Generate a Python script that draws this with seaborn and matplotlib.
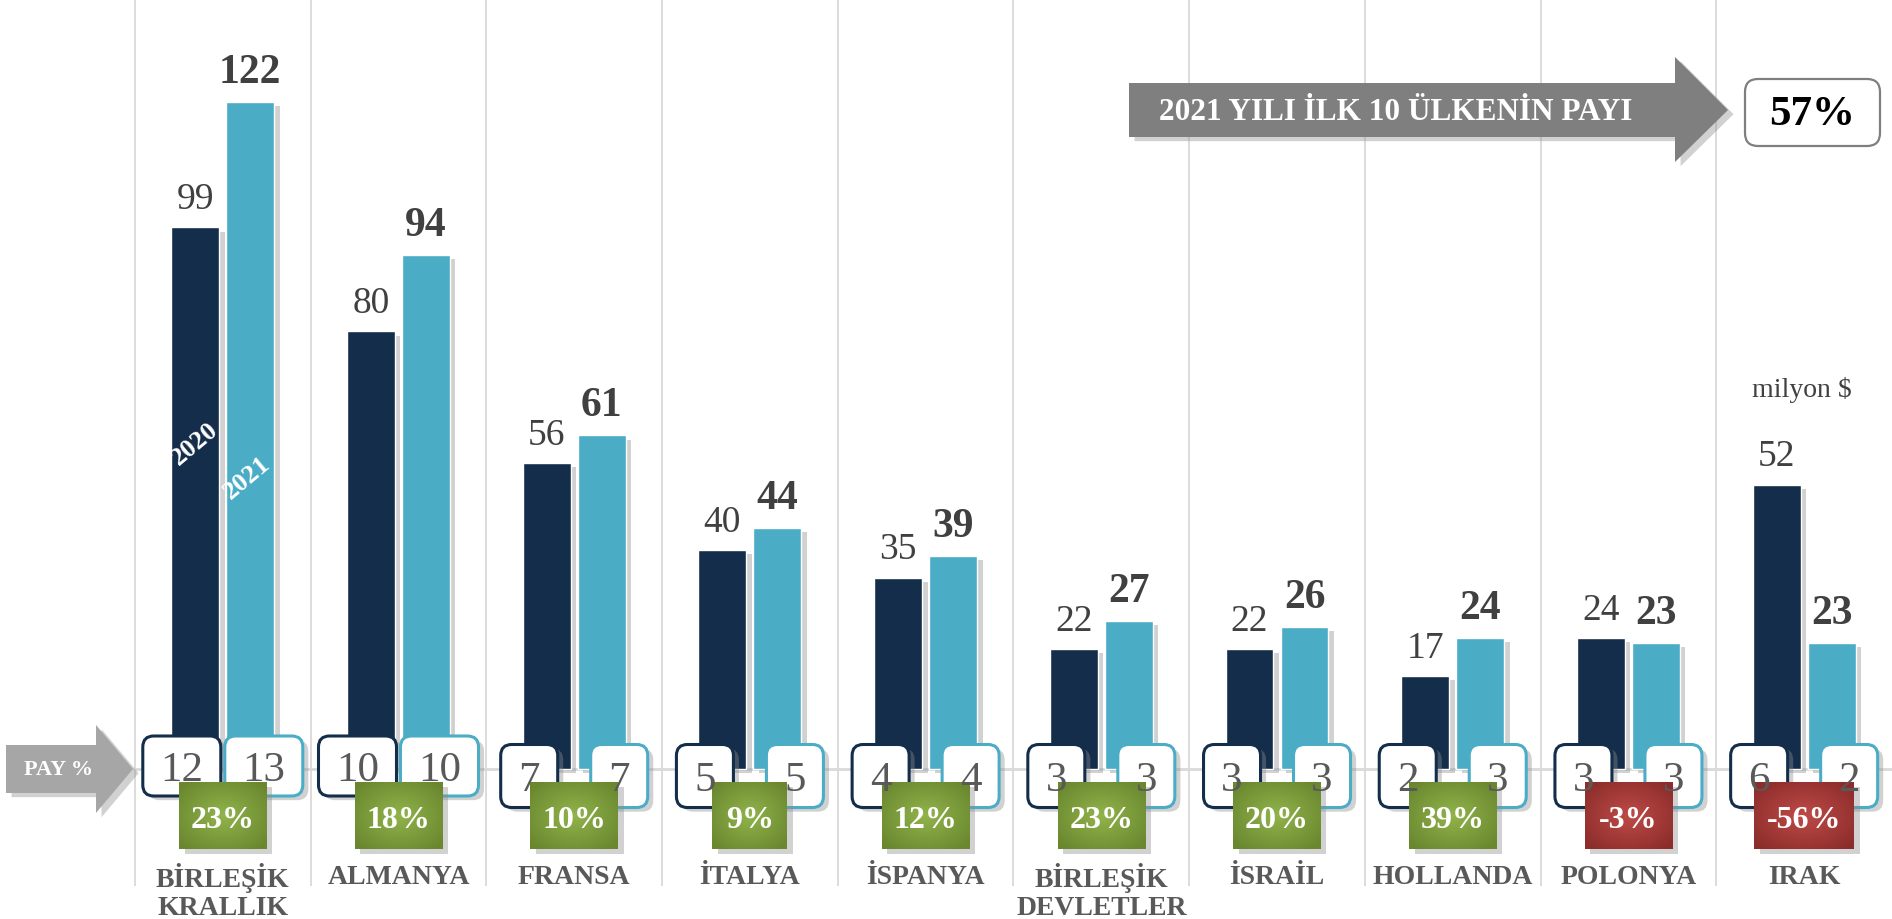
import numpy as np
import pandas as pd
import seaborn as sns
import matplotlib.pyplot as plt
import matplotlib.patheffects as pe
from matplotlib.patches import FancyBboxPatch, Rectangle, Polygon
from matplotlib.colors import LinearSegmentedColormap

# data
countries = ["BİRLEŞİK\nKRALLIK", "ALMANYA", "FRANSA", "İTALYA", "İSPANYA",
             "BİRLEŞİK\nDEVLETLER", "İSRAİL", "HOLLANDA", "POLONYA", "IRAK"]
years = ["2020", "2021"]
val_2020 = [99, 80, 56, 40, 35, 22, 22, 17, 24, 52]
val_2021 = [122, 94, 61, 44, 39, 27, 26, 24, 23, 23]
pay_2020 = [12, 10, 7, 5, 4, 3, 3, 2, 3, 6]
pay_2021 = [13, 10, 7, 5, 4, 3, 3, 3, 3, 2]
change = ["23%", "18%", "10%", "9%", "12%", "23%", "20%", "39%", "-3%", "-56%"]
banner_text = "2021 YILI İLK 10 ÜLKENİN PAYI"
top10_share = "57%"
unit_label = "milyon $"

NAVY = "#132d4a"
AQUA = "#4bacc6"
GREY_TXT = "#595959"

df = pd.DataFrame({
    "country": countries * 2,
    "year": ["2020"] * len(countries) + ["2021"] * len(countries),
    "value": val_2020 + val_2021,
})

sns.set_theme(style="white")
plt.rcParams["font.family"] = ["Liberation Serif", "DejaVu Serif"]

W, H = 1892, 920
XL = (-1.268, 9.5)
YL = (-27.42, 140.77)
PX_X = W / (XL[1] - XL[0])
PX_Y = H / (YL[1] - YL[0])


def xdat(px):
    return XL[0] + px / PX_X


def ydat(px):
    return YL[1] - px / PX_Y


shadow = [pe.SimplePatchShadow(offset=(4, -3), shadow_rgbFace="#8c8c8c", alpha=0.4), pe.Normal()]

fig = plt.figure(figsize=(W / 100, H / 100), dpi=100)
ax = fig.add_axes([0, 0, 1, 1])

sns.barplot(data=df, x="country", y="value", hue="year", order=countries,
            hue_order=years, palette=[NAVY, AQUA], saturation=1,
            width=0.626, gap=0.13, legend=False, ax=ax, zorder=3)
for bar in ax.patches:
    bar.set_path_effects(shadow)

# separators and baseline
ax.vlines(np.arange(len(countries)) - 0.5, ydat(887), YL[1], color="#d9d9d9", lw=1.3, zorder=0)
ax.hlines(0, xdat(133), XL[1], color="#d9d9d9", lw=2, zorder=1)

# value labels
ax.bar_label(ax.containers[0], labels=[str(v) for v in val_2020], padding=8,
             fontsize=27, color="#404040")
ax.bar_label(ax.containers[1], labels=[str(v) for v in val_2021], padding=8,
             fontsize=30, fontweight="bold", color="#404040")

# share boxes (PAY %)
for i in range(len(countries)):
    for j, (v, ec) in enumerate([(pay_2020[i], NAVY), (pay_2021[i], AQUA)]):
        s = str(v)
        two = len(s) > 1
        wpx, hpx, cy = (78, 60, 767) if two else (57, 63, 777)
        off = (41 if two else 45) / PX_X
        cx = i - off if j == 0 else i + off
        w, h = wpx / PX_X, hpx / PX_Y
        box = FancyBboxPatch((cx - w / 2, ydat(cy) - h / 2), w, h,
                             boxstyle=f"round,pad=0,rounding_size={11 / PX_X}",
                             mutation_aspect=PX_X / PX_Y, fc="white", ec=ec,
                             lw=2.2, zorder=4)
        box.set_path_effects(shadow)
        ax.add_patch(box)
        ax.text(cx, ydat(cy + 14), s, ha="center", va="baseline", fontsize=31,
                color=GREY_TXT, zorder=6)

# change boxes
green = LinearSegmentedColormap.from_list("g", ["#6a872f", "#90b34a"])
red = LinearSegmentedColormap.from_list("r", ["#8c2d2b", "#bd4a47"])
gy, gx = np.mgrid[-1:1:60j, -1:1:60j]
grad = 1 - np.clip(np.sqrt(gx ** 2 + gy ** 2) / 1.3, 0, 1)
for i, s in enumerate(change):
    neg = s.startswith("-")
    wpx, hpx, cy = 50 + 12.5 * len(s), 67, 817
    w, h = wpx / PX_X, hpx / PX_Y
    x0, y0 = i - w / 2, ydat(cy) - h / 2
    rect = Rectangle((x0, y0), w, h, fc="#a33c3a" if neg else "#7b9a3c", ec="none", zorder=5)
    rect.set_path_effects(shadow)
    ax.add_patch(rect)
    im = ax.imshow(grad, extent=[x0, x0 + w, y0, y0 + h], cmap=red if neg else green,
                   aspect="auto", zorder=5.1, interpolation="bilinear")
    im.set_clip_path(rect)
    ax.text(i, ydat(cy + 11), s, ha="center", va="baseline", fontsize=23,
            fontweight="bold", color="white", zorder=6)

# category labels
for i, name in enumerate(countries):
    for k, line in enumerate(name.split("\n")):
        ax.text(i, ydat(878 + 31 * k), line, ha="center", va="center", fontsize=20,
                fontweight="bold", color=GREY_TXT)

# year labels inside the first pair of bars
b20 = ax.containers[0][0]
b21 = ax.containers[1][0]
ax.text(b20.get_x() + b20.get_width() / 2, ydat(444), years[0], rotation=40,
        rotation_mode="anchor", ha="center", va="center", fontsize=19,
        fontweight="bold", color="white", zorder=6)
ax.text(b21.get_x() + b21.get_width() / 2 - 3 / PX_X, ydat(478), years[1], rotation=40,
        rotation_mode="anchor", ha="center", va="center", fontsize=19,
        fontweight="bold", color="white", zorder=6)

# PAY % arrow
pay_pts = [(6, 746), (96, 746), (96, 726), (133, 770), (96, 814), (96, 794), (6, 794)]
arr = Polygon([(xdat(x), ydat(y)) for x, y in pay_pts], closed=True, fc="#a6a6a6",
              ec="none", zorder=4)
arr.set_path_effects(shadow)
ax.add_patch(arr)
ax.text(xdat(59), ydat(770), "PAY %", ha="center", va="center", fontsize=16,
        fontweight="bold", color="white", zorder=6)

# top banner arrow
top_pts = [(1129, 84), (1675, 84), (1675, 58), (1728, 111), (1675, 163), (1675, 138), (1129, 138)]
arr2 = Polygon([(xdat(x), ydat(y)) for x, y in top_pts], closed=True, fc="#7f7f7f",
               ec="none", zorder=4)
arr2.set_path_effects(shadow)
ax.add_patch(arr2)
ax.text(xdat(1396), ydat(113), banner_text, ha="center", va="center", fontsize=22.5,
        fontweight="bold", color="white", zorder=6)

share_box = FancyBboxPatch((xdat(1745), ydat(147)), 135 / PX_X, 67 / PX_Y,
                           boxstyle=f"round,pad=0,rounding_size={13 / PX_X}",
                           mutation_aspect=PX_X / PX_Y, fc="white", ec="#7f7f7f",
                           lw=1.6, zorder=4)
ax.add_patch(share_box)
ax.text(xdat(1812), ydat(115), top10_share, ha="center", va="center", fontsize=31,
        fontweight="bold", color="black", zorder=6)

ax.text(xdat(1802), ydat(397), unit_label, ha="center", va="baseline", fontsize=20,
        color="#404040")

ax.set_xlim(*XL)
ax.set_ylim(*YL)
ax.set_axis_off()

fig.savefig("out.png", dpi=100)
